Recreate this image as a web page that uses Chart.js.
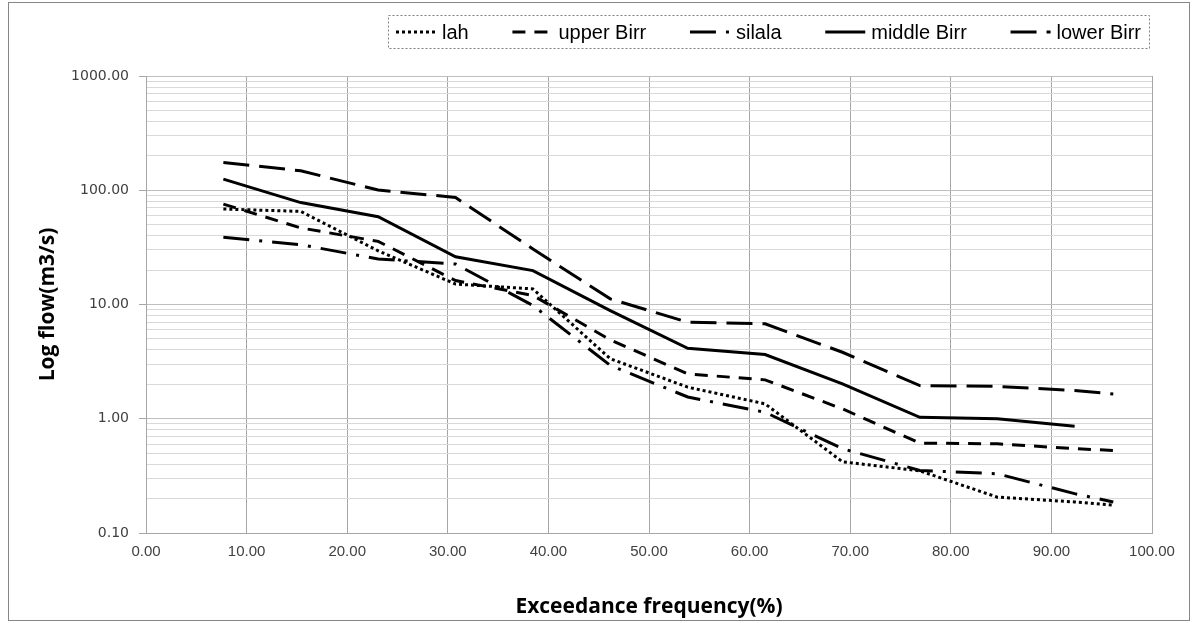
<!DOCTYPE html>
<html>
<head>
<meta charset="utf-8">
<script src="https://cdn.jsdelivr.net/npm/chart.js@4.4.1/dist/chart.umd.min.js"></script>
<style>
  html, body { margin: 0; padding: 0; background: #fff; }
</style>
</head>
<body>
<canvas id="chart" width="1194" height="623"></canvas>
<script>
// Exceedance frequency (%) of each ranked flow
const exceedance = [7.69, 15.38, 23.08, 30.77, 38.46, 46.15, 53.85, 61.54, 69.23, 76.92, 84.62, 92.31, 96.15];

// Flows (m3/s)
const lah        = [68.5, 65.3, 29.5, 15.1, 13.7, 3.35, 1.89, 1.35, 0.42, 0.35, 0.206, 0.187, 0.175];
const upperBirr  = [75.7, 46.8, 35.7, 16.2, 12.0, 4.9, 2.47, 2.19, 1.22, 0.612, 0.604, 0.547, 0.528];
const silala     = [38.7, 33.4, 25.0, 22.6, 9.8, 2.93, 1.55, 1.14, 0.547, 0.353, 0.33, 0.221, 0.187];
const middleBirr = [125, 78, 58.7, 26.2, 19.8, 8.85, 4.14, 3.65, 2.02, 1.03, 1.0, 0.86];
const lowerBirr  = [175, 148, 100.4, 86.5, 30.6, 11.2, 7.0, 6.77, 3.82, 1.95, 1.92, 1.77, 1.65];

// Axis ticks
const decades = [0.1, 1, 10, 100, 1000];
const minorSteps = [1, 2, 3, 4, 5, 6, 7, 8, 9];

const gridValues = [];
decades.slice(0, -1).forEach(d => minorSteps.forEach(m => gridValues.push(d * m)));
gridValues.push(decades[decades.length - 1]);

const isDecade = v => decades.some(d => Math.abs(v / d - 1) < 1e-9);
const pts = arr => arr.map((v, i) => ({ x: exceedance[i], y: v }));

const LEGEND_FONT = '20px "Liberation Sans", Arial, sans-serif';
const LEGEND_LEFT = 396, LEGEND_RIGHT = 1141, LEGEND_Y = 32;
const SAMPLE_W = 40, SAMPLE_GAP = 6;

// white page + outer chart frame
const framePlugin = {
  id: 'frame',
  beforeDraw(chart) {
    const ctx = chart.ctx;
    ctx.save();
    ctx.fillStyle = '#fff';
    ctx.fillRect(0, 0, chart.width, chart.height);
    ctx.strokeStyle = '#868686';
    ctx.lineWidth = 1;
    ctx.strokeRect(8.5, 2.5, 1181, 618);
    ctx.restore();
  }
};

// Excel-like legend inside a dotted box, samples use the dataset dash
const boxLegend = {
  id: 'boxLegend',
  afterDraw(chart) {
    const ctx = chart.ctx;
    const sets = chart.data.datasets;
    ctx.save();
    ctx.font = LEGEND_FONT;
    const widths = sets.map(ds => ctx.measureText(ds.label).width);
    const used = widths.reduce((s, w) => s + w + SAMPLE_W + SAMPLE_GAP, 0);
    const gap = (LEGEND_RIGHT - LEGEND_LEFT - used) / (sets.length - 1);

    ctx.strokeStyle = '#7f7f7f';
    ctx.lineWidth = 1;
    ctx.setLineDash([2, 2]);
    ctx.strokeRect(388.5, 15.5, 761, 33);

    let x = LEGEND_LEFT;
    sets.forEach((ds, i) => {
      ctx.beginPath();
      ctx.setLineDash(ds.borderDash || []);
      ctx.lineWidth = ds.borderWidth;
      ctx.strokeStyle = ds.borderColor;
      ctx.moveTo(x, LEGEND_Y);
      ctx.lineTo(x + SAMPLE_W, LEGEND_Y);
      ctx.stroke();
      x += SAMPLE_W + SAMPLE_GAP;
      ctx.fillStyle = '#000';
      ctx.textBaseline = 'middle';
      ctx.fillText(ds.label, x, LEGEND_Y + 1);
      x += widths[i] + gap;
    });
    ctx.restore();
  }
};

function line(label, data, dash) {
  return {
    label, data: pts(data),
    borderColor: '#000', backgroundColor: '#000',
    borderWidth: 3, borderDash: dash,
    pointRadius: 0, tension: 0, fill: false,
  };
}

new Chart(document.getElementById('chart'), {
  type: 'line',
  data: {
    datasets: [
      line('lah', lah, [3, 3]),
      line('upper Birr', upperBirr, [13, 9]),
      line('silala', silala, [26, 10, 3, 10]),
      line('middle Birr', middleBirr, []),
      line('lower Birr', lowerBirr, [26, 10]),
    ],
  },
  options: {
    responsive: false, animation: false, devicePixelRatio: 1,
    layout: { padding: { left: 8, right: 42, top: 76, bottom: 3 } },
    plugins: { legend: { display: false }, tooltip: { enabled: false } },
    scales: {
      x: {
        type: 'linear', min: 0, max: 100,
        afterFit: s => { s.height = 87; },
        ticks: {
          stepSize: 10, padding: 10, color: '#404040',
          font: { family: '"Liberation Sans Narrow", "Liberation Sans", Arial', size: 15 },
          callback: v => v.toFixed(2),
        },
        grid: { color: '#a6a6a6', drawTicks: false },
        border: { color: '#a6a6a6' },
        title: {
          display: true, text: 'Exceedance frequency(%)', color: '#000',
          font: { family: '"Open Sans"', weight: 'bold', size: 21 },
          padding: { top: 0, bottom: 0 },
        },
      },
      y: {
        type: 'logarithmic', min: 0.1, max: 1000,
        afterFit: s => { s.width = 138; },
        afterBuildTicks: s => { s.ticks = gridValues.map(v => ({ value: v })); },
        ticks: {
          autoSkip: false, padding: 10, color: '#404040',
          font: { family: '"DejaVu Sans"', size: 14 },
          callback: v => isDecade(v) ? v.toFixed(2) : '',
        },
        grid: {
          color: ctx => isDecade(ctx.tick.value) ? '#bfbfbf' : '#d9d9d9',
          tickColor: ctx => isDecade(ctx.tick.value) ? '#a6a6a6' : 'rgba(0,0,0,0)',
          tickLength: 7,
        },
        border: { color: '#a6a6a6' },
        title: {
          display: true, text: 'Log flow(m3/s)', color: '#000',
          font: { family: '"Open Sans"', weight: 'bold', size: 21 },
          padding: { top: 27, bottom: 0 },
        },
      },
    },
  },
  plugins: [framePlugin, boxLegend],
});
</script>
</body>
</html>
